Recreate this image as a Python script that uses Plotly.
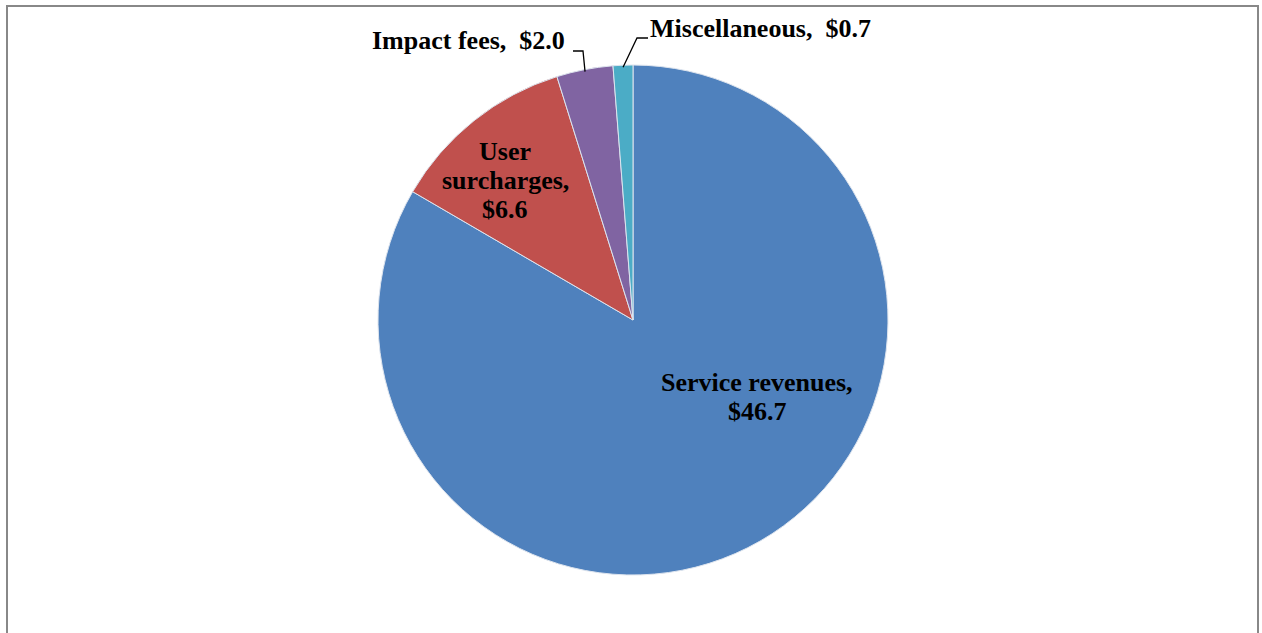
import math
import plotly.graph_objects as go

# Revenue sources ($ millions)
categories = ["Service revenues", "User surcharges", "Impact fees", "Miscellaneous"]
values = [46.7, 6.6, 2.0, 0.7]
label_text = ["Service revenues,<br>$46.7", "User<br>surcharges,<br>$6.6",
              "Impact fees,  $2.0", "Miscellaneous,  $0.7"]
colors = ["#4F81BD", "#C0504D", "#8064A2", "#4BACC6"]

W, H = 1262, 633
cx, cy, R = 633, 320, 255  # pie centre and radius in pixels

def px(x):
    return x / W

def py(y):
    return 1 - y / H

fig = go.Figure(go.Pie(
    labels=categories,
    values=values,
    sort=False,
    direction="clockwise",
    rotation=0,
    marker=dict(colors=colors, line=dict(color="#DDE4EE", width=1)),
    textinfo="none",
    hoverinfo="label+value",
    domain=dict(x=[px(cx - R), px(cx + R)], y=[py(cy + R), py(cy - R)]),
    showlegend=False,
))

font = dict(family="Liberation Serif", size=26, color="black")
line_gap = 29

# mid angle of each slice, clockwise from 12 o'clock
total = sum(values)
mids = []
acc = 0.0
for v in values:
    mids.append((acc + v / 2) / total * 360)
    acc += v

def edge_point(angle_deg, r):
    a = math.radians(angle_deg)
    return cx + r * math.sin(a), cy - r * math.cos(a)

# label anchor: (x, y of first line centre, xanchor)
label_pos = [(757, 382, "center"), (505, 151, "center"), (567, 41, "right"), (648, 29, "left")]

annotations = []
for text, (x, y0, xa) in zip(label_text, label_pos):
    for i, line in enumerate(text.split("<br>")):
        annotations.append(dict(
            x=px(x), y=py(y0 + i * line_gap), xref="paper", yref="paper",
            text="<b>" + line + "</b>", xanchor=xa, yanchor="middle",
            showarrow=False, font=font,
        ))

# leader lines for the two small outside labels
shapes = []
ix, iy = edge_point(mids[2], R - 2)
mx, my = edge_point(mids[3], R - 2)
leaders = [
    [(573, 51), (583, 51), (ix, iy)],
    [(648, 38), (637, 38), (mx, my)],
]
for pts in leaders:
    path = "M " + " L ".join(f"{px(x)},{py(y)}" for x, y in pts)
    shapes.append(dict(type="path", xref="paper", yref="paper", path=path,
                       line=dict(color="black", width=1.3)))

# chart frame
shapes.append(dict(type="rect", xref="paper", yref="paper",
                   x0=px(7), x1=px(1258), y0=py(650), y1=py(6),
                   line=dict(color="#888888", width=2)))

fig.update_layout(
    width=W, height=H,
    margin=dict(l=0, r=0, t=0, b=0),
    paper_bgcolor="white",
    plot_bgcolor="white",
    annotations=annotations,
    shapes=shapes,
)

fig.write_html("out.html")
